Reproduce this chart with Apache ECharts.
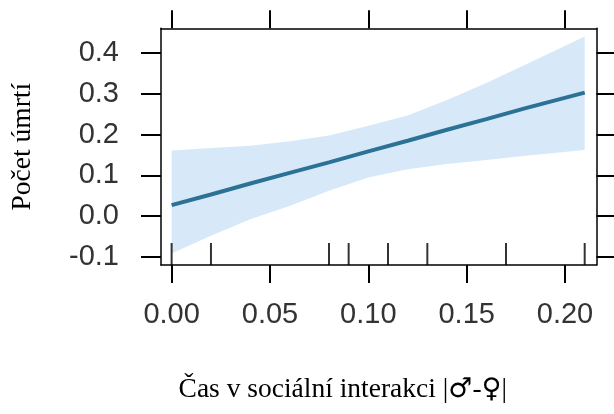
<!DOCTYPE html>
<html>
<head>
<meta charset="utf-8">
<script src="https://cdn.jsdelivr.net/npm/echarts@6/dist/echarts.min.js"></script>
<style>
html, body { margin: 0; padding: 0; background: #fff; }
#chart { width: 614px; height: 414px; }
</style>
</head>
<body>
<div id="chart"></div>
<script>
// effect of |male-female| social interaction time on deaths
const xs    = [0, 0.02, 0.04, 0.06, 0.08, 0.10, 0.12, 0.14, 0.16, 0.18, 0.21]
const fit   = [0.027, 0.053, 0.080, 0.106, 0.132, 0.159, 0.185, 0.212, 0.238, 0.265, 0.303]
const lower = [-0.092, -0.048, -0.008, 0.025, 0.062, 0.095, 0.115, 0.128, 0.138, 0.148, 0.162]
const upper = [0.161, 0.167, 0.173, 0.184, 0.198, 0.222, 0.247, 0.285, 0.327, 0.372, 0.441]
const rug   = [0, 0.02, 0.08, 0.09, 0.11, 0.13, 0.17, 0.21]
const xTicks = [0, 0.05, 0.10, 0.15, 0.20]
const yTicks = [-0.1, 0.0, 0.1, 0.2, 0.3, 0.4]

const X_MIN = -0.0054, X_MAX = 0.216
const Y_MIN = -0.12, Y_MAX = 0.461

const chart = echarts.init(document.getElementById('chart'))

const tickFont = { fontFamily: 'Liberation Sans', fontSize: 29, color: '#333' }
const titleFont = { fontFamily: 'Liberation Serif', fontSize: 27.5, color: '#000' }
const line = { show: true, onZero: false, lineStyle: { color: '#000', width: 1.5 } }

const xAxisBase = (pos) => ({
  type: 'value',
  position: pos,
  min: X_MIN,
  max: X_MAX,
  axisLine: line,
  axisTick: { show: true, customValues: xTicks, length: 18, lineStyle: { color: '#000', width: 2 } },
  splitLine: { show: false }
})
const yAxisBase = (pos) => ({
  type: 'value',
  position: pos,
  min: Y_MIN,
  max: Y_MAX,
  axisLine: line,
  axisTick: { show: true, customValues: yTicks, length: 20, lineStyle: { color: '#000', width: 2 } },
  splitLine: { show: false }
})

// confidence band as one polygon: upper edge forward, lower edge back
const bandData = xs.map((x, i) => [x, lower[i], upper[i]])

chart.setOption({
  animation: false,
  grid: { left: 161, right: 17.5, top: 28.3, bottom: 149 },
  xAxis: [
    Object.assign(xAxisBase('bottom'), {
      axisLabel: Object.assign({ customValues: xTicks, margin: 35, formatter: v => v.toFixed(2) }, tickFont),
      name: '{a|Čas v sociální interakci |}{s|♂}{a|-}{s|♀}{a||}',
      nameLocation: 'middle',
      nameGap: 111,
      nameTextStyle: Object.assign({
        padding: [0, 72, 0, 0],
        rich: {
          a: titleFont,
          s: { fontFamily: 'DejaVu Sans', fontSize: 27, color: '#000' }
        }
      }, titleFont)
    }),
    Object.assign(xAxisBase('top'), { axisLabel: { show: false } })
  ],
  yAxis: [
    Object.assign(yAxisBase('left'), {
      axisLabel: Object.assign({ customValues: yTicks, margin: 42, formatter: v => v.toFixed(1) }, tickFont),
      name: 'Počet úmrtí',
      nameLocation: 'middle',
      nameRotate: 90,
      nameGap: 124,
      nameTextStyle: titleFont
    }),
    Object.assign(yAxisBase('right'), { axisLabel: { show: false } })
  ],
  series: [
    {
      type: 'custom',
      data: bandData,
      silent: true,
      renderItem: (params, api) => {
        if (params.dataIndex !== 0) return
        const top = bandData.map(d => api.coord([d[0], d[2]]))
        const bot = bandData.map(d => api.coord([d[0], d[1]])).reverse()
        return {
          type: 'polygon',
          shape: { points: top.concat(bot) },
          style: { fill: '#d7e9f9' }
        }
      }
    },
    {
      type: 'line',
      data: xs.map((x, i) => [x, fit[i]]),
      showSymbol: false,
      lineStyle: { color: '#2c7296', width: 4 }
    },
    {
      type: 'scatter',
      data: rug.map(x => [x, Y_MIN]),
      symbol: 'rect',
      symbolSize: [2, 22],
      symbolOffset: [0, -11],
      itemStyle: { color: '#000' },
      silent: true
    }
  ]
})
</script>
</body>
</html>
